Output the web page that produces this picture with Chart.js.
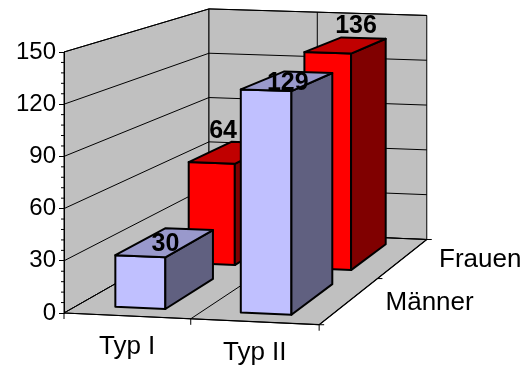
<!DOCTYPE html>
<html>
<head>
<meta charset="utf-8">
<script src="https://cdn.jsdelivr.net/npm/chart.js@4/dist/chart.umd.min.js"></script>
<style>
  html, body { margin: 0; padding: 0; background: #fff; }
  canvas { display: block; }
</style>
</head>
<body>
<canvas id="c" width="523" height="367"></canvas>
<script>
// Categories, series and values
const categories = ['Typ I', 'Typ II'];
const seriesNames = ['Männer', 'Frauen'];
const maenner = [30, 129];
const frauen = [64, 136];
const yTicks = [0, 30, 60, 90, 120, 150];

// Fill colours per series: front, side, top
const faceColours = [
  { front: '#c0c0ff', side: '#606080', top: '#9999cc' },
  { front: '#ff0000', side: '#800000', top: '#c00000' }
];
const wallColour = '#c0c0c0';

// Perspective of the box: depth offsets and divisor terms (pixels / ratios)
const view = { a: -0.013, c: 0.178, uz: 182.2, vx: 7.5, vz: -41.5 };
// Shift applied to the value labels of the back row (px)
const backLabelShift = [[-10, -24], [10, -21]];

const FONT = '"Liberation Sans", Arial, sans-serif';

function proj(ca, x, h, z) {
  const W = ca.right - ca.left, H = ca.bottom - ca.top;
  const w = 1 + view.a * x + view.c * z;
  return [(ca.left + W * x + view.uz * z) / w,
          (ca.bottom + view.vx * x + view.vz * z - H * h) / w];
}

function poly(ctx, pts, fill, stroke, lw) {
  ctx.beginPath();
  pts.forEach((p, i) => i ? ctx.lineTo(p[0], p[1]) : ctx.moveTo(p[0], p[1]));
  ctx.closePath();
  if (fill) { ctx.fillStyle = fill; ctx.fill(); }
  if (stroke) { ctx.strokeStyle = stroke; ctx.lineWidth = lw; ctx.stroke(); }
}
function line(ctx, p, q, lw) {
  ctx.beginPath();
  ctx.moveTo(p[0], p[1]);
  ctx.lineTo(q[0], q[1]);
  ctx.lineWidth = lw || 1;
  ctx.strokeStyle = '#000';
  ctx.stroke();
}

const box3d = {
  id: 'box3d',
  beforeDraw(chart) {
    const ctx = chart.ctx, ca = chart.chartArea;
    const ys = chart.scales.y, xs = chart.scales.x;
    const W = ca.right - ca.left, H = ca.bottom - ca.top;
    const hOf = v => (ca.bottom - ys.getPixelForValue(v)) / H;
    const P = (x, h, z) => proj(ca, x, h, z);
    ctx.save();
    ctx.lineJoin = 'round';
    // side wall, back wall, floor
    poly(ctx, [P(0,0,0), P(0,0,1), P(0,1,1), P(0,1,0)], wallColour, '#000', 1);
    poly(ctx, [P(0,0,1), P(1,0,1), P(1,1,1), P(0,1,1)], wallColour, '#000', 1);
    poly(ctx, [P(0,0,0), P(1,0,0), P(1,0,1), P(0,0,1)], wallColour, '#000', 1);
    // value gridlines on both walls
    yTicks.forEach(t => {
      const h = hOf(t);
      line(ctx, P(0, h, 0), P(0, h, 1));
      line(ctx, P(0, h, 1), P(1, h, 1));
    });
    // category divisions on back wall and floor
    for (let i = 1; i < categories.length; i++) {
      const x = ((xs.getPixelForValue(i - 1) + xs.getPixelForValue(i)) / 2 - ca.left) / W;
      line(ctx, P(x, 0, 1), P(x, 1, 1));
      line(ctx, P(x, 0, 0), P(x, 0, 1));
    }
    // front edge ticks
    [0, 0.5, 1].forEach(x => {
      const p = P(x, 0, 0);
      line(ctx, p, [p[0], p[1] + 6]);
    });
    // series axis ticks on right edge
    [0, 0.5, 1].forEach(z => {
      const p = P(1, 0, z);
      line(ctx, p, [p[0] + 5, p[1]]);
    });
    line(ctx, P(0,0,0), P(1,0,0), 1.2);
    line(ctx, P(1,0,0), P(1,0,1), 1.2);
    ctx.restore();
  },
  afterDraw(chart) {
    const ctx = chart.ctx, ca = chart.chartArea;
    const ys = chart.scales.y, xs = chart.scales.x;
    const W = ca.right - ca.left, H = ca.bottom - ca.top;
    const hOf = v => (ca.bottom - ys.getPixelForValue(v)) / H;
    const P = (x, h, z) => proj(ca, x, h, z);
    const catW = (xs.getPixelForValue(1) - xs.getPixelForValue(0)) / W;
    const halfW = catW * 0.4 / 2;
    const rowD = 1 / seriesNames.length;
    const halfD = rowD * (2 / 3) / 2;
    ctx.save();
    ctx.lineJoin = 'round';

    // minor ticks on the value axis
    for (let v = 0; v <= 150; v += 6) {
      if (v % 30 === 0) continue;
      const y = ys.getPixelForValue(v);
      ctx.beginPath();
      ctx.moveTo(ca.left - 3, y);
      ctx.lineTo(ca.left, y);
      ctx.lineWidth = 1; ctx.strokeStyle = '#000';
      ctx.stroke();
    }

    // bars, back row first
    const labels = [];
    for (let s = chart.data.datasets.length - 1; s >= 0; s--) {
      const ds = chart.data.datasets[s];
      const zc = (s + 0.5) * rowD;
      const z0 = zc - halfD, z1 = zc + halfD;
      ds.data.forEach((val, i) => {
        const xc = (xs.getPixelForValue(i) - ca.left) / W;
        const x0 = xc - halfW, x1 = xc + halfW;
        const h = hOf(val);
        const col = faceColours[s];
        poly(ctx, [P(x0,0,z0), P(x1,0,z0), P(x1,h,z0), P(x0,h,z0)], col.front, '#000', 2);
        poly(ctx, [P(x1,0,z0), P(x1,0,z1), P(x1,h,z1), P(x1,h,z0)], col.side, '#000', 2);
        poly(ctx, [P(x0,h,z0), P(x1,h,z0), P(x1,h,z1), P(x0,h,z1)], col.top, '#000', 2);
        const c = P(xc, h, zc);
        const sh = s === 1 ? backLabelShift[i] : [0, 0];
        labels.push([String(val), c[0] + sh[0], c[1] + sh[1]]);
      });
    }

    // value labels
    ctx.fillStyle = '#000';
    ctx.textAlign = 'center';
    ctx.textBaseline = 'alphabetic';
    ctx.font = 'bold 25px ' + FONT;
    labels.forEach(l => ctx.fillText(l[0], l[1], l[2] + 9));

    // category labels along the front edge
    ctx.font = '26px ' + FONT;
    categories.forEach((name, i) => {
      const xc = (xs.getPixelForValue(i) - ca.left) / W;
      const p = P(xc, 0, 0);
      ctx.fillText(name, p[0], p[1] + 38);
    });

    // series labels along the depth edge
    ctx.textAlign = 'left';
    seriesNames.forEach((name, s) => {
      const p = P(1, 0, (s + 0.5) * rowD);
      ctx.fillText(name, p[0] + 36, p[1] + 9);
    });
    ctx.restore();
  }
};

Chart.defaults.font.family = FONT;

new Chart(document.getElementById('c'), {
  type: 'bar',
  data: {
    labels: categories,
    datasets: [
      { label: seriesNames[0], data: maenner, backgroundColor: 'rgba(0,0,0,0)', borderWidth: 0 },
      { label: seriesNames[1], data: frauen, backgroundColor: 'rgba(0,0,0,0)', borderWidth: 0 }
    ]
  },
  options: {
    responsive: false,
    animation: false,
    devicePixelRatio: 1,
    layout: { padding: { top: 52, bottom: 54, left: 0, right: 208 } },
    plugins: { legend: { display: false }, tooltip: { enabled: false } },
    scales: {
      x: { display: false },
      y: {
        min: 0, max: 150,
        afterFit: s => { s.width = 64; },
        ticks: {
          stepSize: 30,
          padding: 3,
          color: '#000',
          font: { size: 24, family: FONT }
        },
        grid: { drawOnChartArea: false, drawTicks: true, tickLength: 5, color: '#000', lineWidth: 1 },
        border: { display: true, color: '#000', width: 1 }
      }
    }
  },
  plugins: [box3d]
});
</script>
</body>
</html>
